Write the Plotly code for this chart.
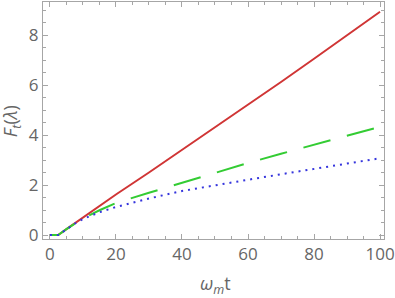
import plotly.graph_objects as go

x_vals = [0, 2.5, 5, 7.5, 10, 15, 20, 30, 40, 50, 60, 70, 80, 90, 100]
red_vals = [0, 0, 0.235, 0.47, 0.7, 1.17, 1.62, 2.5, 3.4, 4.3, 5.2, 6.12, 7.05, 7.99, 8.93]
green_vals = [0, 0, 0.235, 0.46, 0.66, 0.99, 1.28, 1.69, 2.09, 2.5, 2.88, 3.25, 3.62, 3.98, 4.33]
blue_vals = [0, 0, 0.22, 0.45, 0.64, 0.91, 1.12, 1.46, 1.76, 2.0, 2.21, 2.43, 2.65, 2.86, 3.07]

x_ticks = [0, 20, 40, 60, 80, 100]
y_ticks = [0, 2, 4, 6, 8]

fig = go.Figure()
fig.add_trace(go.Scatter(x=x_vals, y=red_vals, mode="lines",
                         line=dict(color="#d03535", width=2)))
fig.add_trace(go.Scatter(x=x_vals, y=green_vals, mode="lines",
                         line=dict(color="#33cc33", width=2, dash="28px,17px")))
fig.add_trace(go.Scatter(x=x_vals, y=blue_vals, mode="lines",
                         line=dict(color="#3535dd", width=2, dash="2px,5px")))

axis_common = dict(
    showline=True, linecolor="#a6a6a6", linewidth=1, mirror="allticks",
    ticks="inside", ticklen=5, tickcolor="#a6a6a6", tickwidth=1,
    showgrid=False, zeroline=False, automargin=False,
    tickfont=dict(family="Open Sans", size=17, color="#666666"),
)

fig.update_xaxes(range=[-2.1, 101.2], tickvals=x_ticks, **axis_common,
                 minor=dict(dtick=5, tick0=0, ticks="inside", ticklen=3, tickcolor="#a6a6a6"))
fig.update_yaxes(range=[-0.16, 9.32], tickvals=y_ticks, **axis_common,
                 minor=dict(dtick=0.5, tick0=0, ticks="inside", ticklen=3, tickcolor="#a6a6a6"))

title_font = dict(family="Open Sans", size=18, color="#666666")
fig.add_annotation(text="<i>ω</i><sub><i>m</i></sub>t", xref="paper", yref="paper",
                   x=0.507, y=-0.19, showarrow=False, font=title_font,
                   xanchor="center", yanchor="middle")
fig.add_annotation(text="<i>F</i><sub><i>t</i></sub>(<i>λ</i>)", xref="paper", yref="paper",
                   x=-0.09, y=0.498, showarrow=False, font=title_font, textangle=-90,
                   xanchor="center", yanchor="middle")

fig.update_layout(width=395, height=298, margin=dict(l=43, r=11, t=2, b=59),
                  plot_bgcolor="white", paper_bgcolor="white", showlegend=False)

fig.write_html("out.html", config={"displayModeBar": False},
               post_script="document.body.style.margin='0';document.body.style.padding='0';")
